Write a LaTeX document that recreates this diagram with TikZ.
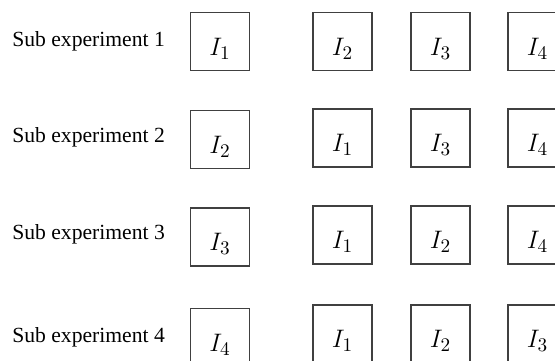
\documentclass[tikz,border=0pt]{standalone}
\usepackage{fontspec}
\setmainfont{Liberation Serif}
\usepackage{tikz}
\usetikzlibrary{positioning}
\DeclareMathSizes{15}{15}{10.5}{8}

\tikzset{
  imgbox/.style={draw=black!75, line width=0.6pt, minimum width=1.18cm, minimum height=1.16cm,
    inner sep=0pt, text height=0.55cm, text depth=0pt, font=\fontsize{15}{17}\selectfont},
  rowlabel/.style={anchor=base west, inner sep=0pt, font=\fontsize{12.3}{14}\selectfont}
}

\begin{document}
\begin{tikzpicture}[x=0.02cm, y=-0.02cm]
  % Marco
  \useasboundingbox (0,0) rectangle (555,361);
  \clip (0,0) rectangle (555,361);

  % Filas: numero / base del texto / centro de la primera caja / centro de las demas / orden
  \foreach \r/\yb/\ya/\yc/\a/\b/\c/\d in {1/47/41.5/41.5/1/2/3/4, 2/143/139.5/138/2/1/3/4,
                                          3/240/237/235/3/1/2/4, 4/343/337.5/334/4/1/2/3}{
    % Etiquetas
    \node[rowlabel] (lab\r) at (12,\yb) {Sub experiment \r};
    % Cajas
    \node[imgbox] (box\r a) at (220,\ya) {$I_{\a}$};
    \node[imgbox] (box\r b) at (342.5,\yc) {$I_{\b}$};
    \node[imgbox] (box\r c) at (440.5,\yc) {$I_{\c}$};
    \node[imgbox] (box\r d) at (537.5,\yc) {$I_{\d}$};
  }
\end{tikzpicture}
\end{document}
